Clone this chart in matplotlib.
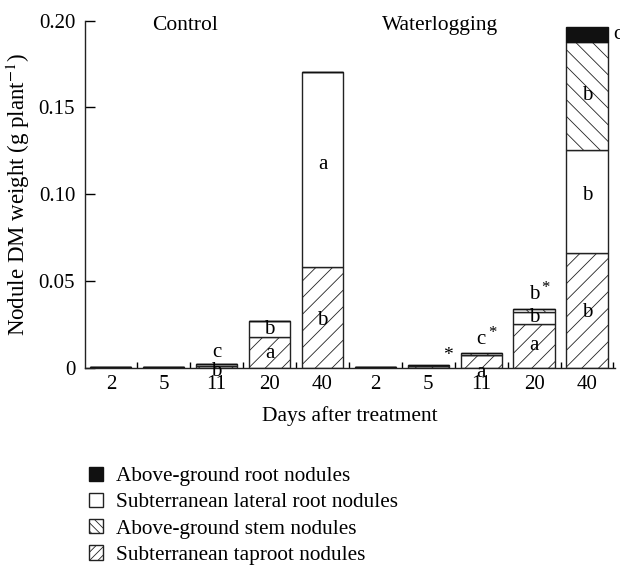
import numpy as np
import matplotlib
matplotlib.use("Agg")
import matplotlib.pyplot as plt
from matplotlib.patches import Patch

plt.rcParams['font.family'] = ['Liberation Serif', 'DejaVu Serif']
plt.rcParams['mathtext.fontset'] = 'stix'
plt.rcParams['hatch.linewidth'] = 0.6
plt.rcParams['hatch.color'] = '#444444'

# data (g plant-1), 5 days for control then 5 for waterlogging
days = ["2", "5", "11", "20", "40", "2", "5", "11", "20", "40"]
treatments = ["Control", "Waterlogging"]
taproot = [0.0003, 0.0003, 0.0010, 0.0178, 0.0582, 0.0003, 0.0012, 0.0075, 0.0252, 0.0663]
lateral = [0, 0, 0.0011, 0.0093, 0.1124, 0, 0, 0, 0.0071, 0.0592]
stem = [0, 0, 0, 0, 0, 0, 0.0004, 0.0008, 0.0015, 0.0624]
ag_root = [0, 0, 0, 0, 0, 0, 0, 0, 0, 0.0083]

series_names = ["Above-ground root nodules", "Subterranean lateral root nodules",
                "Above-ground stem nodules", "Subterranean taproot nodules"]

# significance letters: (bar, y, letter, star)
letters = [
    (2, 0.0086, "c", False), (2, -0.0022, "b", False),
    (3, 0.0222, "b", False), (3, 0.0080, "a", False),
    (4, 0.1170, "a", False), (4, 0.0270, "b", False),
    (7, 0.0160, "c", True), (7, -0.0028, "a", False),
    (8, 0.0420, "b", True), (8, 0.0290, "b", False), (8, 0.0130, "a", False),
    (9, 0.1570, "b", False), (9, 0.0990, "b", False), (9, 0.0320, "b", False),
]

x = np.arange(len(days))
w = 0.78

fig = plt.figure(figsize=(6.2, 5.67), dpi=100)
ax = fig.add_axes([0.137, 0.3515, 0.855, 0.612])

taproot = np.array(taproot)
lateral = np.array(lateral)
stem = np.array(stem)
ag_root = np.array(ag_root)

ax.bar(x, taproot, w, color='white', edgecolor='#222222', hatch='//', linewidth=1.0)
ax.bar(x, lateral, w, bottom=taproot, color='white', edgecolor='#222222', linewidth=1.0)
ax.bar(x, stem, w, bottom=taproot + lateral, color='white', edgecolor='#222222', hatch='\\\\', linewidth=1.0)
ax.bar(x, ag_root, w, bottom=taproot + lateral + stem, color='#111111', edgecolor='#111111', linewidth=1.0)

for i, y, t, star in letters:
    ax.text(x[i], y, t, ha='center', va='center', fontsize=15, clip_on=False)
    if star:
        ax.text(x[i] + 0.22, y + 0.004, "*", ha='center', va='center', fontsize=12, clip_on=False)
# star on W5 and label of the black segment
ax.text(x[6] + 0.38, 0.0073, "*", ha='center', va='center', fontsize=14)
ax.text(x[9] + 0.5, 0.192, "c", ha='left', va='center', fontsize=15, clip_on=False)

ax.text(1.4, 0.197, treatments[0], ha='center', va='center', fontsize=15.5)
ax.text(6.22, 0.197, treatments[1], ha='center', va='center', fontsize=15.5)

ax.set_xlim(-0.49, 9.53)
ax.set_ylim(0, 0.20)
ax.set_yticks([0, 0.05, 0.10, 0.15, 0.20])
ax.set_yticklabels(["0", "0.05", "0.10", "0.15", "0.20"])
ax.set_xticks(x)
ax.set_xticklabels(days)
ax.set_xticks(np.arange(0.5, 10, 1), minor=True)
ax.tick_params(axis='x', which='major', length=0, labelsize=15, pad=5)
ax.tick_params(axis='x', which='minor', direction='in', length=4, width=1.0)
ax.tick_params(axis='y', direction='in', length=7, width=1.0, labelsize=15, pad=7)
ax.spines['top'].set_visible(False)
ax.spines['right'].set_visible(False)
for s in ['left', 'bottom']:
    ax.spines[s].set_linewidth(1.0)
    ax.spines[s].set_color('#222222')

ax.set_xlabel("Days after treatment", fontsize=15.5)
ax.xaxis.set_label_coords(0.5, -0.11)
ax.set_ylabel("Nodule DM weight (g plant$^{-1}$)", fontsize=16.5)
ax.yaxis.set_label_coords(-0.10, 0.5)

handles = [
    Patch(facecolor='#111111', edgecolor='#111111', label=series_names[0]),
    Patch(facecolor='white', edgecolor='#222222', label=series_names[1]),
    Patch(facecolor='white', edgecolor='#222222', hatch='\\\\\\\\', label=series_names[2]),
    Patch(facecolor='white', edgecolor='#222222', hatch='////', label=series_names[3]),
]
fig.legend(handles=handles, loc='upper left', bbox_to_anchor=(0.1435, 0.177),
           frameon=False, fontsize=15.3, handlelength=0.66, handleheight=0.66,
           handletextpad=0.6, labelspacing=0.31, borderaxespad=0, borderpad=0)

fig.savefig("out.png", dpi=100)
